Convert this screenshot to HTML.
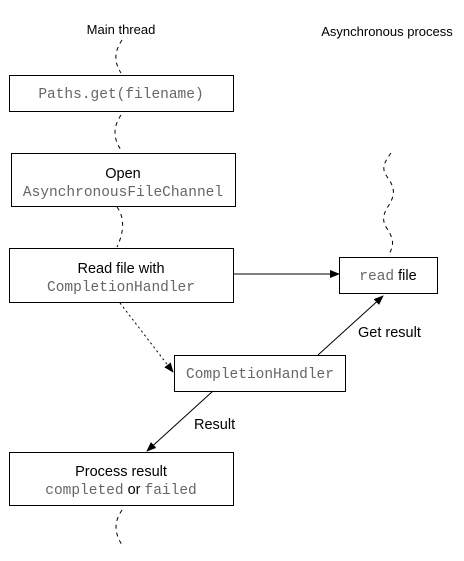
<!DOCTYPE html>
<html><head><style>
body{margin:0;background:#fff;}
svg{display:block;}
.s{font-family:"Liberation Sans",sans-serif;font-size:14.5px;fill:#000;}
.m{font-family:"Liberation Mono",monospace;font-size:14.5px;fill:#666;}
.t{font-family:"Liberation Sans",sans-serif;font-size:13px;fill:#000;}
</style></head><body>
<svg width="464" height="561" viewBox="0 0 464 561">
<defs><marker id="a" markerWidth="10" markerHeight="8" refX="9" refY="4" orient="auto" markerUnits="userSpaceOnUse"><path d="M0,0L10,4L0,8z" fill="#000"/></marker></defs>
<text class="t" x="121" y="34" text-anchor="middle">Main thread</text>
<text class="t" x="387" y="36" text-anchor="middle">Asynchronous process</text>
<g fill="none" stroke="#000" stroke-width="1" stroke-dasharray="4,4">
<path d="M122,40 C114,52 114,62 121,73"/>
<path d="M121,115 C113,127 113,138 121,150"/>
<path d="M117,207 C125,218 124,232 117,247"/>
<path d="M391,153 C382,165 382,170 388,178 C395,188 395,195 389,205 C382,215 382,222 388,230 C394,240 394,246 388,256"/>
<path d="M122,510 C114,522 114,532 122,545"/>
</g>
<g fill="#fff" stroke="#000" stroke-width="1">
<rect x="9.5" y="75.5" width="224" height="36"/>
<rect x="11.5" y="153.5" width="224" height="53"/>
<rect x="9.5" y="248.5" width="224" height="54"/>
<rect x="339.5" y="257.5" width="98" height="36"/>
<rect x="174.5" y="355.5" width="171" height="36"/>
<rect x="9.5" y="452.5" width="224" height="53"/>
</g>
<text class="m" x="121" y="98" text-anchor="middle">Paths.get(filename)</text>
<text class="s" x="123" y="178" text-anchor="middle">Open</text>
<text class="m" x="123" y="196" text-anchor="middle">AsynchronousFileChannel</text>
<text class="s" x="121" y="273" text-anchor="middle">Read file with</text>
<text class="m" x="121" y="291" text-anchor="middle">CompletionHandler</text>
<text x="388" y="280" text-anchor="middle"><tspan class="m">read</tspan><tspan class="s"> file</tspan></text>
<text class="m" x="260" y="378" text-anchor="middle">CompletionHandler</text>
<text class="s" x="121" y="476" text-anchor="middle">Process result</text>
<text x="121" y="494" text-anchor="middle"><tspan class="m">completed</tspan><tspan class="s"> or </tspan><tspan class="m">failed</tspan></text>
<g stroke="#000" stroke-width="1" fill="none">
<line x1="233" y1="274" x2="339" y2="274" marker-end="url(#a)"/>
<line x1="120" y1="303" x2="173" y2="372" stroke-dasharray="2,3" marker-end="url(#a)"/>
<line x1="318" y1="355" x2="383" y2="296" marker-end="url(#a)"/>
<line x1="213" y1="391" x2="147" y2="451" marker-end="url(#a)"/>
</g>
<text class="s" x="358" y="337">Get result</text>
<text class="s" x="194" y="429">Result</text>
</svg>
</body></html>
